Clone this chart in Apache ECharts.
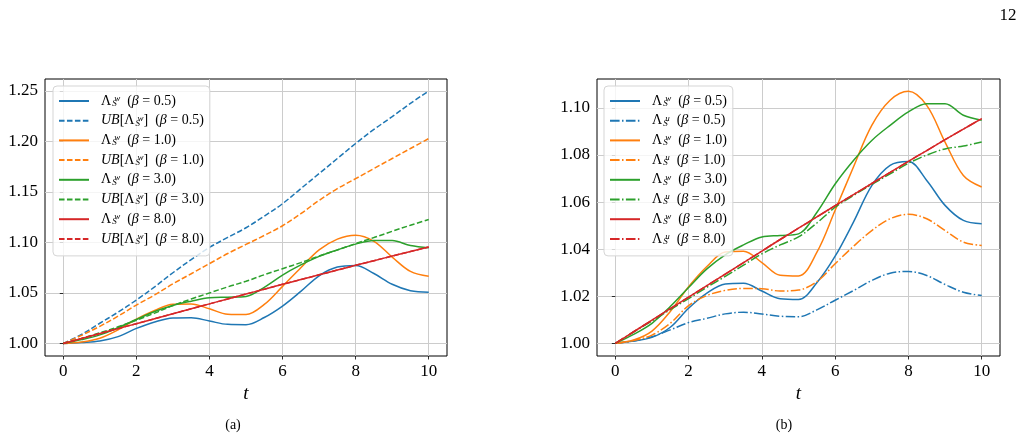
<!DOCTYPE html>
<html>
<head>
<meta charset="utf-8">
<script src="https://cdn.jsdelivr.net/npm/echarts@6/dist/echarts.min.js"></script>
<style>html,body{margin:0;padding:0;background:#fff}#c{width:1019px;height:438px}</style>
</head>
<body>
<div id="c"></div>
<script>
// ---- data ----
const t = [0,0.5,1,1.5,2,2.5,3,3.5,4,4.5,5,5.5,6,6.5,7,7.5,8,8.5,9,9.5,10];

const wB05 = [1.000,1.0010,1.0025,1.0068,1.0149,1.0213,1.0252,1.0255,1.0222,1.0189,1.0186,1.0257,1.0370,1.0515,1.0670,1.0756,1.0772,1.0692,1.0586,1.0522,1.0508];
const wO1  = [1.000,1.0014,1.0052,1.0135,1.0240,1.0326,1.0388,1.0391,1.0343,1.0289,1.0286,1.0386,1.0565,1.0749,1.0926,1.1033,1.1071,1.1011,1.0855,1.0713,1.0664];
const wG3  = [1.000,1.0038,1.0085,1.0156,1.0237,1.0316,1.0376,1.0418,1.0452,1.0458,1.0465,1.0556,1.0677,1.0777,1.0862,1.0926,1.0983,1.1018,1.1018,1.0969,1.0948];
const wR8  = [1.000,1.0049,1.0098,1.0147,1.0196,1.0245,1.0294,1.0343,1.0392,1.0441,1.0489,1.0537,1.0585,1.0632,1.0679,1.0726,1.0773,1.0819,1.0865,1.0910,1.0955];

const ubB05 = [1.000,1.009,1.020,1.031,1.043,1.056,1.070,1.083,1.095,1.105,1.1145,1.126,1.1383,1.1532,1.1681,1.183,1.1979,1.2118,1.2244,1.2376,1.2498];
const ubO1  = [1.000,1.008,1.017,1.027,1.038,1.048,1.059,1.069,1.079,1.089,1.098,1.1069,1.1165,1.1284,1.1416,1.1532,1.1631,1.1731,1.183,1.1929,1.2028];
const ubG3  = [1.000,1.005,1.0105,1.0165,1.023,1.030,1.0375,1.044,1.050,1.056,1.0615,1.068,1.074,1.080,1.0865,1.0925,1.0988,1.1048,1.111,1.117,1.1227];
const ubR8  = [1.000,1.0049,1.0098,1.0147,1.0196,1.0245,1.0294,1.0343,1.0392,1.0441,1.0489,1.0537,1.0585,1.0632,1.0679,1.0726,1.0773,1.0819,1.0865,1.0910,1.0955];

const uB05 = [1.000,1.0010,1.0028,1.0057,1.0088,1.0106,1.0125,1.0132,1.0124,1.0115,1.0113,1.0142,1.0183,1.0224,1.0267,1.0298,1.0305,1.0288,1.0250,1.0217,1.0203];
const uO1  = [1.000,1.0012,1.0035,1.0085,1.0160,1.0203,1.0225,1.0233,1.0232,1.0222,1.0226,1.0262,1.0338,1.0412,1.0479,1.0529,1.0548,1.0529,1.0479,1.0430,1.0416];
const uG3  = [1.000,1.0048,1.0095,1.0143,1.0190,1.0238,1.0284,1.0332,1.0380,1.0418,1.0452,1.0511,1.0578,1.0628,1.0675,1.0720,1.0765,1.0800,1.0826,1.0838,1.0855];
const uR8  = [1.000,1.0049,1.0098,1.0147,1.0196,1.0245,1.0294,1.0343,1.0392,1.0441,1.0489,1.0537,1.0585,1.0632,1.0679,1.0726,1.0773,1.0819,1.0865,1.0910,1.0955];

const xTicks  = [0,2,4,6,8,10];
const yTicksA = [1.00,1.05,1.10,1.15,1.20,1.25];
const yTicksB = [1.00,1.02,1.04,1.06,1.08,1.10];
const betas = ['0.5','1.0','3.0','8.0'];
const captions = ['(a)','(b)'];
const pageNumber = '12';

// ---- styling ----
const C = ['#1f77b4','#ff7f0e','#2ca02c','#d62728'];
const FONT = 'Liberation Serif';
const DASH = [5.55,2.4];
const DASHDOT = [9.6,2.4,1.5,2.4];
const SMOOTH = 0.35;

function pairs(ys){ return t.map((x,i)=>[x,ys[i]]); }

const wSets = [wB05,wO1,wG3,wR8];
const ubSets = [ubB05,ubO1,ubG3,ubR8];
const uSets = [uB05,uO1,uG3,uR8];

function line(name,gi,ys,k,type){
  return {name:name,type:'line',xAxisIndex:gi,yAxisIndex:gi,data:pairs(ys),symbol:'none',smooth:SMOOTH,
    lineStyle:{color:C[k],width:1.5,type:type},itemStyle:{color:C[k]}};
}
const series = [];
const legA = [], legB = [];
for (let k=0;k<4;k++){
  series.push(line('w'+betas[k],0,wSets[k],k,'solid'));
  series.push(line('ub'+betas[k],0,ubSets[k],k,DASH));
  legA.push('w'+betas[k], 'ub'+betas[k]);
}
for (let k=0;k<4;k++){
  series.push(line('w'+betas[k],1,wSets[k],k,'solid'));
  series.push(line('u'+betas[k],1,uSets[k],k,DASHDOT));
  legB.push('w'+betas[k], 'u'+betas[k]);
}

function legendLabel(name){
  const kind = name.startsWith('ub') ? 'ub' : name[0];
  const beta = name.replace(/^(ub|w|u)/,'');
  const sup = kind === 'u' ? 'u' : 'w';
  const ss = '{S|S}{P|' + sup + '}';
  const tail = '{T|  (}{B|β}{T| = ' + beta + ')}';
  if (kind === 'ub') return '{U|UB}{T|[}{M|Λ}' + ss + '{T|]}' + tail;
  return '{L|Λ}' + ss + tail;
}
const rich = {
  L:{fontFamily:FONT,fontSize:14,lineHeight:14,padding:[0,0,0,7]},
  M:{fontFamily:FONT,fontSize:14,lineHeight:14},
  U:{fontFamily:FONT,fontSize:14,fontStyle:'italic',lineHeight:14,padding:[0,0,0,7]},
  S:{fontFamily:FONT,fontSize:9,fontStyle:'italic',verticalAlign:'bottom',lineHeight:9,width:1,padding:[5,0,0,1]},
  P:{fontFamily:FONT,fontSize:9,fontStyle:'italic',verticalAlign:'top',lineHeight:9,padding:[0,0,5,1]},
  T:{fontFamily:FONT,fontSize:14,lineHeight:14},
  B:{fontFamily:FONT,fontSize:14,fontStyle:'italic',lineHeight:14}
};
function legendOpt(data,left){
  return {
    data:data, left:left, top:86, orient:'vertical', selectedMode:false,
    itemWidth:30, itemHeight:14, itemGap:5.7,
    padding:[8,6,10,5],
    backgroundColor:'rgba(255,255,255,0.8)', borderColor:'#d5d5d5', borderWidth:1, borderRadius:4,
    itemStyle:{opacity:0},
    formatter:legendLabel,
    textStyle:{color:'#000',fontFamily:FONT,fontSize:14,rich:rich}
  };
}

function xAxisOpt(gi){
  return {
    gridIndex:gi, type:'value', min:-0.5, max:10.5,
    name:'t', nameLocation:'middle', nameGap:27,
    nameTextStyle:{fontFamily:FONT,fontStyle:'italic',fontSize:19,color:'#000'},
    axisLine:{show:false},
    axisTick:{show:true,inside:false,length:3.5,customValues:xTicks,lineStyle:{color:'#000',width:0.8}},
    axisLabel:{customValues:xTicks,margin:7,fontFamily:FONT,fontSize:17,color:'#000',formatter:v=>String(v)},
    splitLine:{show:true,lineStyle:{color:'#cccccc',width:1}}
  };
}
function yAxisOpt(gi,min,max,ticks){
  return {
    gridIndex:gi, type:'value', min:min, max:max,
    axisLine:{show:false},
    axisTick:{show:true,inside:false,length:3.5,customValues:ticks,lineStyle:{color:'#000',width:0.8}},
    axisLabel:{customValues:ticks,margin:7,fontFamily:FONT,fontSize:17,color:'#000',formatter:v=>v.toFixed(2)},
    splitLine:{show:true,lineStyle:{color:'#cccccc',width:1}}
  };
}

const option = {
  animation:false,
  backgroundColor:'#fff',
  title:[
    {text:captions[0],left:228,top:413,textAlign:'center',textStyle:{fontFamily:FONT,fontSize:14,fontWeight:'normal',color:'#000'}},
    {text:captions[1],left:779,top:413,textAlign:'center',textStyle:{fontFamily:FONT,fontSize:14,fontWeight:'normal',color:'#000'}},
    {text:pageNumber,left:1003,top:2,textAlign:'center',textStyle:{fontFamily:FONT,fontSize:17,fontWeight:'normal',color:'#000'}}
  ],
  grid:[
    {left:45,top:79,width:402,height:277,show:true,borderColor:'#000',borderWidth:1,backgroundColor:'transparent'},
    {left:597,top:79,width:403,height:277,show:true,borderColor:'#000',borderWidth:1,backgroundColor:'transparent'}
  ],
  xAxis:[xAxisOpt(0),xAxisOpt(1)],
  yAxis:[yAxisOpt(0,0.9876,1.2617,yTicksA),yAxisOpt(1,0.9946,1.1123,yTicksB)],
  legend:[legendOpt(legA,53),legendOpt(legB,604)],
  series:series
};
const chart = echarts.init(document.getElementById('c'),null,{renderer:'canvas'});
chart.setOption(option);
</script>
</body>
</html>
